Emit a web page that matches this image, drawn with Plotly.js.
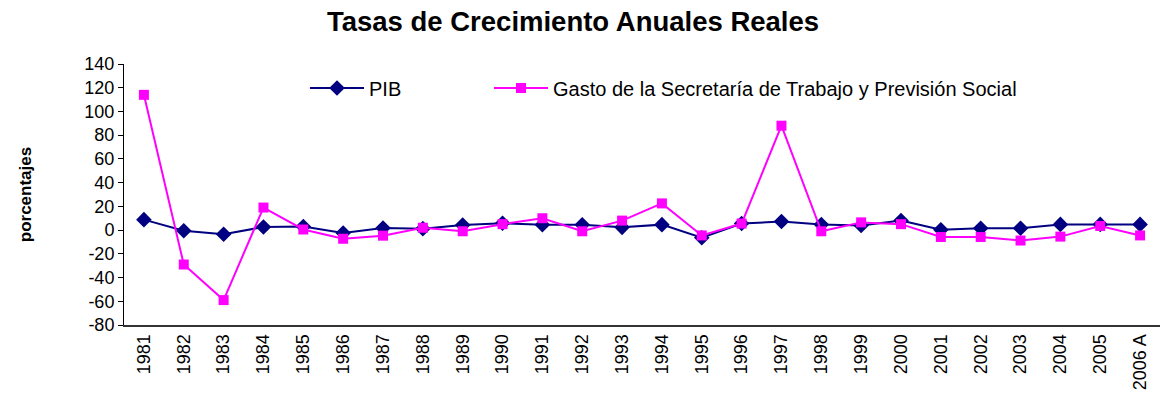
<!DOCTYPE html>
<html>
<head>
<meta charset="utf-8">
<script src="https://cdn.plot.ly/plotly-3.0.1.min.js"></script>
<style>html,body{margin:0;padding:0;background:#fff;}#chart{width:1162px;height:406px;}</style>
</head>
<body>
<div id="chart"></div>
<script>
var years = ['1981','1982','1983','1984','1985','1986','1987','1988','1989','1990','1991','1992','1993','1994','1995','1996','1997','1998','1999','2000','2001','2002','2003','2004','2005','2006 A'];
var pib = [8.8, -0.6, -3.5, 2.6, 3.0, -2.5, 1.7, 1.2, 4.2, 5.8, 4.5, 4.5, 2.3, 4.6, -6.5, 5.6, 7.2, 4.7, 3.9, 8.0, 0.3, 1.5, 1.5, 4.8, 4.8, 4.8];
var gasto = [114, -29, -59, 19, 0.5, -7.3, -4.7, 2.0, -1.0, 5.0, 10.0, -1.0, 8.0, 22.5, -4.5, 5.5, 88, -1.0, 6.5, 5.0, -5.8, -5.8, -8.8, -5.5, 3.5, -4.5];
var yTickVals = [-80, -60, -40, -20, 0, 20, 40, 60, 80, 100, 120, 140];
var yTickText = ['-80', '-60', '-40', '-20', '0', '20', '40', '60', '80', '100', '120', '140'];
var seriesNames = ['PIB', 'Gasto de la Secretaría de Trabajo y Previsión Social'];
var chartTitle = 'Tasas de Crecimiento Anuales Reales';
var yTitle = 'porcentajes';

var FONT = 'Liberation Sans, Arial, sans-serif';
var W = 1162, H = 406;
var ML = 124, MR = 2, MT = 64, MB = 81;
var PW = W - ML - MR, PH = H - MT - MB;
var yMin = -80, yMax = 140;

var traces = [
  {
    x: years, y: pib, name: seriesNames[0], type: 'scatter', mode: 'lines+markers',
    line: {color: '#000080', width: 2},
    marker: {symbol: 'diamond', size: 12, color: '#000080'},
    legend: 'legend'
  },
  {
    x: years, y: gasto, name: seriesNames[1], type: 'scatter', mode: 'lines+markers',
    line: {color: '#FF00FF', width: 2},
    marker: {symbol: 'square', size: 10, color: '#FF00FF'},
    legend: 'legend2'
  }
];

var layout = {
  width: W, height: H,
  margin: {l: ML, r: MR, t: MT, b: MB},
  paper_bgcolor: '#fff', plot_bgcolor: '#fff',
  font: {family: FONT, size: 17, color: '#000'},
  title: {
    text: chartTitle, x: 573 / W, xanchor: 'center', xref: 'container',
    y: 1 - 21 / H, yanchor: 'middle', yref: 'container',
    font: {family: FONT, size: 27.5, weight: 'bold', color: '#000'}
  },
  xaxis: {
    type: 'category', range: [-0.5, years.length - 0.5],
    showline: true, linecolor: '#333', linewidth: 2,
    ticks: '', tickangle: -90, showgrid: false, zeroline: false,
    tickfont: {family: FONT, size: 18, color: '#000'}
  },
  xaxis2: {
    type: 'linear', overlaying: 'x', anchor: 'free',
    position: (0 - yMin) / (yMax - yMin),
    range: [-0.5, years.length - 0.5],
    tick0: 0.5, dtick: 1, ticks: 'outside', ticklen: 5, tickcolor: '#000', tickwidth: 1,
    showline: true, linecolor: '#000', linewidth: 1,
    showticklabels: false, showgrid: false, zeroline: false
  },
  yaxis: {
    range: [yMin, yMax], tickvals: yTickVals, ticktext: yTickText,
    showline: true, linecolor: '#000', linewidth: 1,
    ticks: 'outside', ticklen: 5, tickcolor: '#000',
    showgrid: false, zeroline: false,
    tickfont: {family: FONT, size: 18, color: '#000'},
    title: {text: yTitle, standoff: 48, font: {family: FONT, size: 17, weight: 'bold', color: '#000'}}
  },
  legend: {
    x: (305 - ML) / PW, xanchor: 'left',
    y: (H - MB - 88) / PH, yanchor: 'middle',
    orientation: 'h', bgcolor: 'rgba(0,0,0,0)', borderwidth: 0,
    itemwidth: 54, font: {family: FONT, size: 20, color: '#000'}
  },
  legend2: {
    x: (489 - ML) / PW, xanchor: 'left',
    y: (H - MB - 88) / PH, yanchor: 'middle',
    orientation: 'h', bgcolor: 'rgba(0,0,0,0)', borderwidth: 0,
    itemwidth: 54, font: {family: FONT, size: 20, color: '#000'}
  },
  showlegend: true
};

Plotly.newPlot('chart', traces, layout, {displayModeBar: false, staticPlot: true});
</script>
</body>
</html>
